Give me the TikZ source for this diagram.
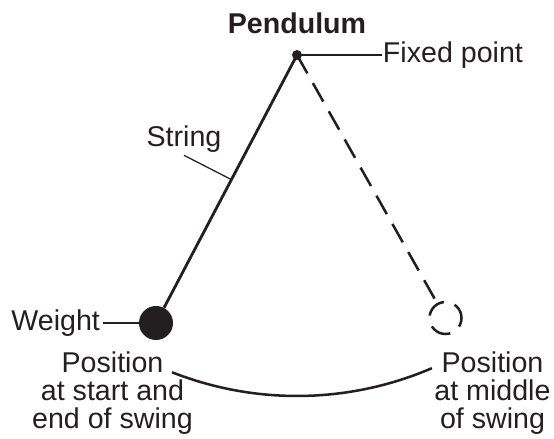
\documentclass[tikz,border=0pt]{standalone}
\usepackage{fontspec}
\setmainfont{Liberation Sans}
\usepackage{xcolor}
\usepackage{tikz}
\usetikzlibrary{calc}
\definecolor{ink}{RGB}{35,31,32}

\begin{document}
\begin{tikzpicture}[
  font=\fontsize{20.35}{19.9}\selectfont,
  color=ink,
  rod/.style={line width=2pt},
  swing/.style={line width=1.8pt, dash pattern=on 15pt off 8pt},
  lead/.style={line width=0.9pt},
  bob/.style={circle, inner sep=0pt},
]
\useasboundingbox (0,0) rectangle (13.85,10.975);
% pivot and bobs
\coordinate (pivot) at (7.425,9.6);
\fill (pivot) circle (0.125);
\node[bob, fill, minimum size=0.85cm] (weight) at (3.9,2.9) {};
\node[bob, draw, swing, dash phase=4pt, minimum size=0.8cm] (middle) at (11.1375,3.025) {};
\draw[rod] (pivot) -- (weight);
\draw[swing] (pivot) -- (middle);
% swing path
\draw[line width=1.8pt] ($(pivot)+(248.5:8.525)$) arc[start angle=248.5, end angle=293.3, radius=8.525];
% labels
\node[anchor=base] (title) at (7.425,10.125) {\bfseries Pendulum};
\node[anchor=west, inner sep=0.5pt] (fixlbl) at (9.55,9.6) {Fixed point};
\draw[lead] (pivot) -- (fixlbl);
\node[anchor=east, inner sep=2pt] (weightlbl) at (2.575,2.9) {Weight};
\draw[lead] (weightlbl) -- (weight);
\node[anchor=base, inner sep=1.5pt] (stringlbl) at (4.6,7.3) {String};
\coordinate (stringpt) at ($(pivot)!0.465!(weight)$);
\draw[lead] (stringlbl.south) -- (stringpt);
\node[anchor=north, align=center, inner sep=0pt] (startlbl) at (2.8125,2.1875)
  {Position\\at start and\\end of swing};
\node[anchor=north, align=center, inner sep=0pt] (midlbl) at (12.3125,2.1875)
  {Position\\at middle\\of swing};
\end{tikzpicture}
\end{document}
